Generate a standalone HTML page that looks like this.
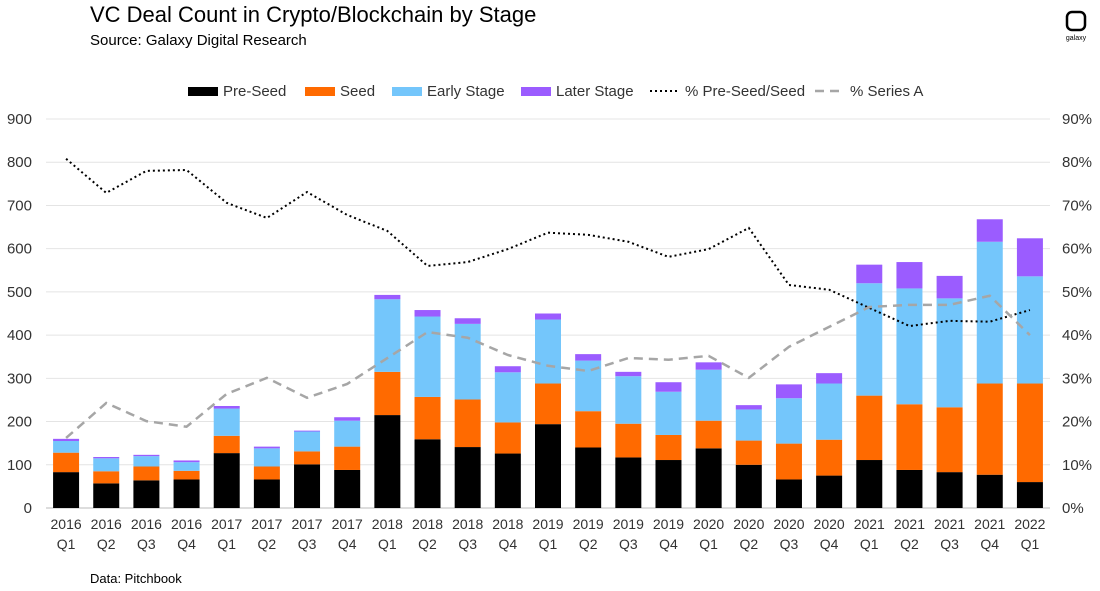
<!DOCTYPE html>
<html><head><meta charset="utf-8"><style>
body{margin:0;background:#fff;font-family:"Liberation Sans",sans-serif;}
#wrap{position:relative;width:1100px;height:591px;overflow:hidden;}
</style></head><body>
<div id="wrap">
<svg id="c" width="1100" height="591" xmlns="http://www.w3.org/2000/svg">
<text x="90" y="22" font-size="22" fill="#000">VC Deal Count in Crypto/Blockchain by Stage</text>
<text x="90" y="45" font-size="15" fill="#000">Source: Galaxy Digital Research</text>
<g><rect x="1067" y="12" width="18" height="18" rx="5" fill="none" stroke="#000" stroke-width="2.5"/><text x="1076" y="40" font-size="7" text-anchor="middle">galaxy</text></g>
<text x="90" y="583" font-size="13" fill="#000">Data: Pitchbook</text>
</svg></div>
<script>
const categories=["2016 Q1","2016 Q2","2016 Q3","2016 Q4","2017 Q1","2017 Q2","2017 Q3","2017 Q4","2018 Q1","2018 Q2","2018 Q3","2018 Q4","2019 Q1","2019 Q2","2019 Q3","2019 Q4","2020 Q1","2020 Q2","2020 Q3","2020 Q4","2021 Q1","2021 Q2","2021 Q3","2021 Q4","2022 Q1"];
const preSeed=[83,57,64,66,127,66,101,88,215,159,141,126,194,140,117,111,138,100,66,75,111,88,83,77,60];
const seed=[45,28,32,20,40,30,30,54,100,98,110,72,94,84,78,58,64,56,83,83,149,152,150,211,228];
const early=[27,30,24,20,63,42,46,60,168,186,175,116,148,117,110,100,118,72,105,130,260,268,252,328,248];
const later=[5,3,3,4,6,4,2,8,10,15,13,14,14,15,10,22,17,10,32,24,43,61,52,52,88];
const pctPreSeedSeed=[80.8,72.9,78,78.2,70.6,67.1,73.1,67.8,64.1,56,56.9,59.9,63.7,63.2,61.6,58.1,59.9,64.8,51.6,50.5,46.3,42.1,43.3,43.1,45.8];
const pctSeriesA=[16.2,24.3,20.1,18.8,26.4,30.1,25.5,28.7,34.7,40.7,39.4,35.4,32.9,31.7,34.7,34.3,35.2,30.1,37.3,41.9,46.5,47,47,49.1,40];
const leftTicks=[0,100,200,300,400,500,600,700,800,900];
const rightTicks=["0%","10%","20%","30%","40%","50%","60%","70%","80%","90%"];
const svg=document.getElementById('c');const NS="http://www.w3.org/2000/svg";
const X0=46,X1=1050,Y0=508,Y1=119;
const y=v=>Y0-(v/900)*(Y0-Y1);
const yp=p=>Y0-(p/90)*(Y0-Y1);
const step=(X1-X0)/categories.length;
const x=i=>X0+step*(i+0.5);
function mk(t,a,txt){const e=document.createElementNS(NS,t);for(const k in a)e.setAttribute(k,a[k]);if(txt!==undefined)e.textContent=txt;svg.appendChild(e);return e;}
leftTicks.forEach((v,i)=>{
 const g=mk('line',{x1:X0,x2:X1,y1:y(v),y2:y(v),stroke:i?'#e4e4e4':'#bbb','stroke-width':1});
 
 
 const l=mk('text',{x:32,y:y(v)+5,'font-size':15,'text-anchor':'end',fill:'#333'},v);
 
 
 const r=mk('text',{x:1062,y:y(v)+5,'font-size':15,fill:'#333'},rightTicks[i]);
 
 
});
const series=[[preSeed,'#000'],[seed,'#ff6a00'],[early,'#74c6fb'],[later,'#9b5cff']];
const names=['bar-pre-seed','bar-seed','bar-early-stage','bar-later-stage'];
const bw=26;
categories.forEach((c,i)=>{
 let base=0;
 series.forEach((s,k)=>{const v=s[0][i];
  const r=mk('rect',{x:x(i)-bw/2,y:y(base+v),width:bw,height:y(base)-y(base+v),fill:s[1]});
  
  
  base+=v;});
 const [yr,q]=c.split(' ');
 const t1=mk('text',{x:x(i),y:529,'font-size':14,'text-anchor':'middle',fill:'#333'},yr);
 
 
 const t2=mk('text',{x:x(i),y:549,'font-size':14,'text-anchor':'middle',fill:'#333'},q);
 
 
});
const l1=mk('polyline',{points:pctPreSeedSeed.map((p,i)=>x(i)+','+yp(p)).join(' '),fill:'none',stroke:'#000','stroke-width':2,'stroke-dasharray':'2,3'});


const l2=mk('polyline',{points:pctSeriesA.map((p,i)=>x(i)+','+yp(p)).join(' '),fill:'none',stroke:'#a6a6a6','stroke-width':2.5,'stroke-dasharray':'9,6'});


const leg=[['rect','#000','Pre-Seed',188],['rect','#ff6a00','Seed',305],['rect','#74c6fb','Early Stage',392],['rect','#9b5cff','Later Stage',521],['dot','#000','% Pre-Seed/Seed',650],['dash','#a6a6a6','% Series A',815]];
leg.forEach(([t,col,label,lx])=>{
 let m;
 if(t==='rect')m=mk('rect',{x:lx,y:87,width:30,height:9,fill:col});
 else if(t==='dot')m=mk('line',{x1:lx,x2:lx+30,y1:91,y2:91,stroke:col,'stroke-width':2,'stroke-dasharray':'2,3'});
 else m=mk('line',{x1:lx,x2:lx+30,y1:91,y2:91,stroke:col,'stroke-width':2.5,'stroke-dasharray':'9,6'});
 
 
 const tx=mk('text',{x:lx+35,y:96,'font-size':15,fill:'#333'},label);
 
 
});
</script>
</body></html>
